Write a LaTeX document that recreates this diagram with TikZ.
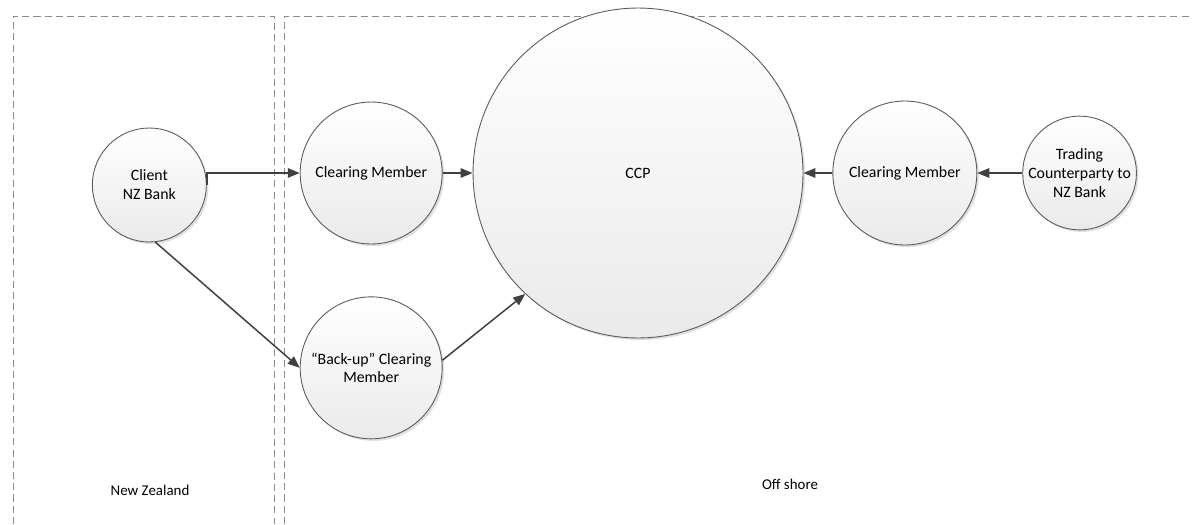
\documentclass[tikz,border=0pt]{standalone}
\usepackage{fontspec}
\setmainfont{Carlito}
\usepackage{xcolor}
\definecolor{EdgeColor}{RGB}{90,90,90}
\definecolor{ArrowColor}{RGB}{64,64,64}
\definecolor{ZoneColor}{RGB}{140,140,140}
\definecolor{FillColor}{RGB}{234,234,234}
\usetikzlibrary{positioning, arrows.meta, shadows}

\begin{document}
\begin{tikzpicture}[
    x=0.02cm, y=-0.02cm,
    party/.style={circle, draw=EdgeColor, line width=0.5pt, top color=white, bottom color=FillColor,
        drop shadow={shadow xshift=1.2pt, shadow yshift=-1.2pt, opacity=0.12, fill=black},
        align=center, inner sep=0pt, font=\fontsize{9}{10.8}\selectfont},
    arrow/.style={-{Triangle[length=0.24cm, width=0.19cm]}, draw=ArrowColor, line width=0.85pt},
    zone/.style={draw=ZoneColor, line width=0.55pt, dash pattern=on 4pt off 2.4pt},
    label/.style={font=\fontsize{8.5}{10}\selectfont, align=center},
]
\useasboundingbox (0,0) rectangle (1192,524);

% ============================================
% ZONES
% ============================================
\draw[zone] (13,524) -- (13,16) -- (274,16) -- (274,524);
\draw[zone] (284,524) -- (284,16) -- (1192,16);

% ============================================
% CENTRAL COUNTERPARTY
% ============================================
\node[party, minimum size=6.6cm] (ccp) at (638,173) {CCP};

% ============================================
% CLEARING MEMBERS
% ============================================
\node[party, minimum size=2.84cm, left=0.6cm of ccp] (cmL) {Clearing Member};
\node[party, minimum size=2.84cm, below=1.04cm of cmL] (backup) {“Back-up” Clearing\\Member};
\node[party, minimum size=2.88cm, right=0.58cm of ccp] (cmR) {Clearing Member};

% ============================================
% CLIENT AND COUNTERPARTY
% ============================================
\node[party, minimum size=2.28cm, left=1.86cm of cmL, yshift=-0.24cm] (client) {Client\\NZ Bank};
\node[party, minimum size=2.26cm, right=0.9cm of cmR] (trading) {Trading\\Counterparty to\\NZ Bank};

% ============================================
% ARROWS
% ============================================
\draw[arrow] (client.east) |- (cmL.west);
\draw[arrow] (client.-84) -- (backup.west);
\draw[arrow] (cmL) -- (ccp);
\draw[arrow] (backup.6) -- (ccp.227);
\draw[arrow] (cmR) -- (ccp);
\draw[arrow] (trading) -- (cmR);

% ============================================
% LABELS
% ============================================
\node[label] (nz) at (150,490) {New Zealand};
\node[label] (off) at (790,484) {Off shore};

\end{tikzpicture}
\end{document}
